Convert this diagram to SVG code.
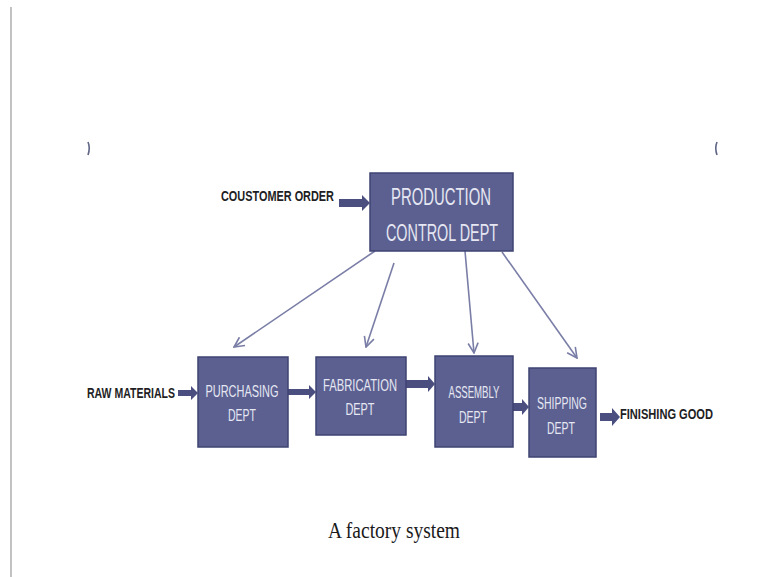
<svg xmlns="http://www.w3.org/2000/svg" width="766" height="577" viewBox="0 0 766 577">
<defs>
<style>
.box{fill:#5b6091;stroke:#3e4372;stroke-width:1.5}
.bt{font-family:"Liberation Sans",Arial,sans-serif;fill:#e6e7f2;text-anchor:middle}
.lbl{font-family:"Liberation Sans",Arial,sans-serif;fill:#1e1e24;font-weight:bold}
.thin{fill:none;stroke:#7a7ea6;stroke-width:1.6}
.thick{fill:#4a4f80}
</style>
<marker id="ah" viewBox="0 0 12 12" refX="11" refY="6" markerWidth="12" markerHeight="12" markerUnits="userSpaceOnUse" orient="auto">
<path d="M1,1 L11,6 L1,11" fill="none" stroke="#7a7ea6" stroke-width="1.6"/>
</marker>
</defs>
<rect width="766" height="577" fill="#ffffff"/>
<line x1="11" y1="7" x2="11" y2="577" stroke="#9a9a9a" stroke-width="1.2"/>
<path d="M88,142 Q90.5,148 88,155" fill="none" stroke="#5f6585" stroke-width="1.6"/>
<path d="M717,142 Q714.5,148 717,155" fill="none" stroke="#5f6585" stroke-width="1.6"/>

<g id="connectors">
<line class="thin" x1="375" y1="251" x2="234" y2="347" marker-end="url(#ah)"/>
<line class="thin" x1="394" y1="263" x2="366" y2="347" marker-end="url(#ah)"/>
<line class="thin" x1="465" y1="251" x2="474" y2="353" marker-end="url(#ah)"/>
<line class="thin" x1="502" y1="252" x2="577" y2="358" marker-end="url(#ah)"/>
<polygon class="thick" points="339,199 362,199 362,195 370,203 362,211 362,207 339,207"/>
<polygon class="thick" points="178,390 191,390 191,386 198,393 191,400 191,396 178,396"/>
<polygon class="thick" points="288,389 309,389 309,385 316,392 309,399 309,395 288,395"/>
<polygon class="thick" points="406,380 428,380 428,376 435,384 428,392 428,388 406,388"/>
<polygon class="thick" points="513,403 522,403 522,399 529,407 522,415 522,411 513,411"/>
<polygon class="thick" points="600,413 612,413 612,408 620,417 612,426 612,421 600,421"/>
</g>

<g id="production">
<rect class="box" x="370" y="173" width="143" height="78"/>
<text class="bt" x="441" y="205" font-size="23" textLength="100" lengthAdjust="spacingAndGlyphs">PRODUCTION</text>
<text class="bt" x="442" y="241" font-size="23" textLength="112" lengthAdjust="spacingAndGlyphs">CONTROL DEPT</text>
</g>
<g id="purchasing">
<rect class="box" x="198" y="357" width="90" height="90"/>
<text class="bt" x="242" y="397" font-size="16" textLength="73" lengthAdjust="spacingAndGlyphs">PURCHASING</text>
<text class="bt" x="242" y="421" font-size="16" textLength="28" lengthAdjust="spacingAndGlyphs">DEPT</text>
</g>
<g id="fabrication">
<rect class="box" x="316" y="357" width="90" height="78"/>
<text class="bt" x="360" y="391" font-size="16" textLength="74" lengthAdjust="spacingAndGlyphs">FABRICATION</text>
<text class="bt" x="360" y="415" font-size="16" textLength="29" lengthAdjust="spacingAndGlyphs">DEPT</text>
</g>
<g id="assembly">
<rect class="box" x="435" y="356" width="78" height="91"/>
<text class="bt" x="474" y="398" font-size="16" textLength="51" lengthAdjust="spacingAndGlyphs">ASSEMBLY</text>
<text class="bt" x="473" y="423" font-size="16" textLength="28" lengthAdjust="spacingAndGlyphs">DEPT</text>
</g>
<g id="shipping">
<rect class="box" x="529" y="368" width="67" height="89"/>
<text class="bt" x="562" y="409" font-size="16" textLength="50" lengthAdjust="spacingAndGlyphs">SHIPPING</text>
<text class="bt" x="561" y="434" font-size="16" textLength="28" lengthAdjust="spacingAndGlyphs">DEPT</text>
</g>
<g id="labels">
<text class="lbl" x="221" y="201" font-size="15" textLength="113" lengthAdjust="spacingAndGlyphs">COUSTOMER ORDER</text>
<text class="lbl" x="87" y="398" font-size="15" textLength="88" lengthAdjust="spacingAndGlyphs">RAW MATERIALS</text>
<text class="lbl" x="620" y="419" font-size="15" textLength="93" lengthAdjust="spacingAndGlyphs">FINISHING GOOD</text>
<text x="328" y="538" font-family="'Liberation Serif','Times New Roman',serif" font-size="24" fill="#1a1a1a" textLength="132" lengthAdjust="spacingAndGlyphs">A factory system</text>
</g>
</svg>
